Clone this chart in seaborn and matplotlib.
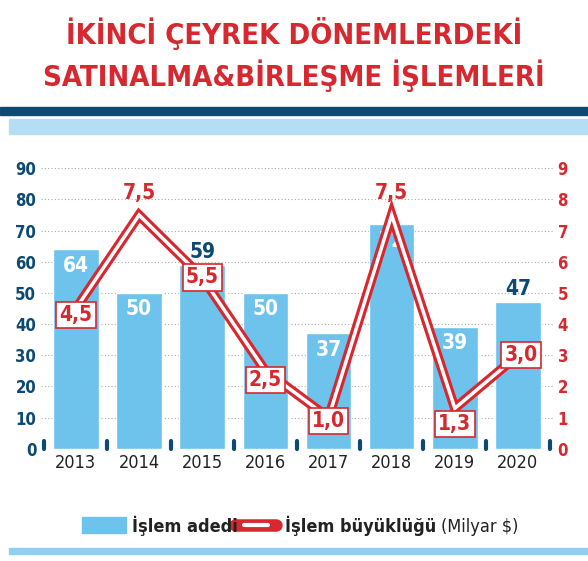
import numpy as np
import pandas as pd
import matplotlib.pyplot as plt
import seaborn as sns
import matplotlib.patches as mpatches
from matplotlib.lines import Line2D

years = ['2013', '2014', '2015', '2016', '2017', '2018', '2019', '2020']
adet = [64, 50, 59, 50, 37, 72, 39, 47]
buyukluk = [4.5, 7.5, 5.5, 2.5, 1.0, 7.5, 1.3, 3.0]
adet_inside = [True, True, False, True, True, True, True, False]

RED = '#d7282f'
NAVY = '#0d4a73'
LBLUE = '#6ec3ec'

sns.set_style('white')
plt.rcParams['font.family'] = ['DejaVu Sans']
plt.rcParams['font.stretch'] = 'condensed'

fig = plt.figure(figsize=(5.88, 5.61), dpi=100)
fig.text(0.5, 0.94, 'İKİNCİ ÇEYREK DÖNEMLERDEKİ', ha='center', va='center',
         color=RED, fontsize=21, fontweight='bold', fontstretch='condensed')
fig.text(0.5, 0.865, 'SATINALMA&BİRLEŞME İŞLEMLERİ', ha='center', va='center',
         color=RED, fontsize=21, fontweight='bold', fontstretch='condensed')
fig.patches.append(mpatches.Rectangle((0, 0.795), 1, 0.014, color=NAVY, transform=fig.transFigure))
fig.patches.append(mpatches.Rectangle((0.015, 0.762), 0.985, 0.026, color='#b5def5', transform=fig.transFigure))
fig.patches.append(mpatches.Rectangle((0.015, 0.012), 0.985, 0.012, color='#8fd0f2', transform=fig.transFigure))

ax = fig.add_axes([0.07, 0.20, 0.87, 0.50])
df = pd.DataFrame({'yil': years, 'adet': adet})
sns.barplot(data=df, x='yil', y='adet', color=LBLUE, saturation=1, width=0.72, ax=ax)
ax.set_ylim(0, 90)
ax.set_yticks(range(0, 91, 10))
ax.set_xlabel('')
ax.set_ylabel('')
ax.grid(axis='y', color='#aaaaaa', linestyle=(0, (1, 2)), linewidth=0.8)
ax.set_axisbelow(True)
for s in ax.spines.values():
    s.set_visible(False)
ax.tick_params(axis='y', colors=NAVY, labelsize=12, length=0)
ax.tick_params(axis='x', colors='#222222', labelsize=13, length=0)
for t in ax.get_yticklabels():
    t.set_fontweight('bold')
for i in range(len(years) + 1):
    ax.plot([i - 0.5, i - 0.5], [0, 2.5], color=NAVY, lw=3, clip_on=False)
for i, (v, ins) in enumerate(zip(adet, adet_inside)):
    if ins:
        ax.text(i, v - 2, str(v), ha='center', va='top', color='white', fontsize=15, fontweight='bold')
    else:
        ax.text(i, v + 1, str(v), ha='center', va='bottom', color=NAVY, fontsize=15, fontweight='bold')
ax.set_xlim(-0.55, 7.55)

ax2 = ax.twinx()
ax2.set_ylim(0, 9)
ax2.set_yticks(range(0, 10))
x = np.arange(len(years))
ax2.plot(x, buyukluk, color=RED, lw=7, solid_capstyle='round', solid_joinstyle='miter')
ax2.plot(x, buyukluk, color='white', lw=2.5, solid_capstyle='round', solid_joinstyle='miter')
for s in ax2.spines.values():
    s.set_visible(False)
ax2.tick_params(axis='y', colors=RED, labelsize=12, length=0)
for t in ax2.get_yticklabels():
    t.set_fontweight('bold')
offs = [(0.0, -0.2), (0.0, 0.7), (0.0, 0.0), (0.0, -0.3), (0.0, -0.1), (0.0, 0.7), (0.0, -0.5), (0.05, 0.0)]
for i, (v, (dx, dy)) in enumerate(zip(buyukluk, offs)):
    lab = f'{v:.1f}'.replace('.', ',')
    if dy > 0:
        ax2.text(i + dx, v + dy, lab, ha='center', va='center', color=RED, fontsize=15, fontweight='bold')
    else:
        ax2.text(i + dx, v + dy, lab, ha='center', va='center', color=RED, fontsize=15, fontweight='bold',
                 bbox=dict(boxstyle='square,pad=0.15', fc='white', ec=RED, lw=1.2), zorder=5)

fig.patches.append(mpatches.Rectangle((0.14, 0.05), 0.075, 0.028, color=LBLUE, transform=fig.transFigure))
fig.text(0.225, 0.052, 'İşlem adedi', color='#222222', fontsize=13, fontweight='bold')
fig.lines.append(Line2D([0.40, 0.47], [0.064, 0.064], color=RED, lw=9, solid_capstyle='round', transform=fig.transFigure))
fig.lines.append(Line2D([0.415, 0.455], [0.064, 0.064], color='white', lw=3, solid_capstyle='round', transform=fig.transFigure))
fig.text(0.485, 0.052, 'İşlem büyüklüğü', color='#222222', fontsize=13, fontweight='bold')
fig.text(0.75, 0.052, '(Milyar $)', color='#222222', fontsize=13)

fig.savefig('out.png', dpi=100)
